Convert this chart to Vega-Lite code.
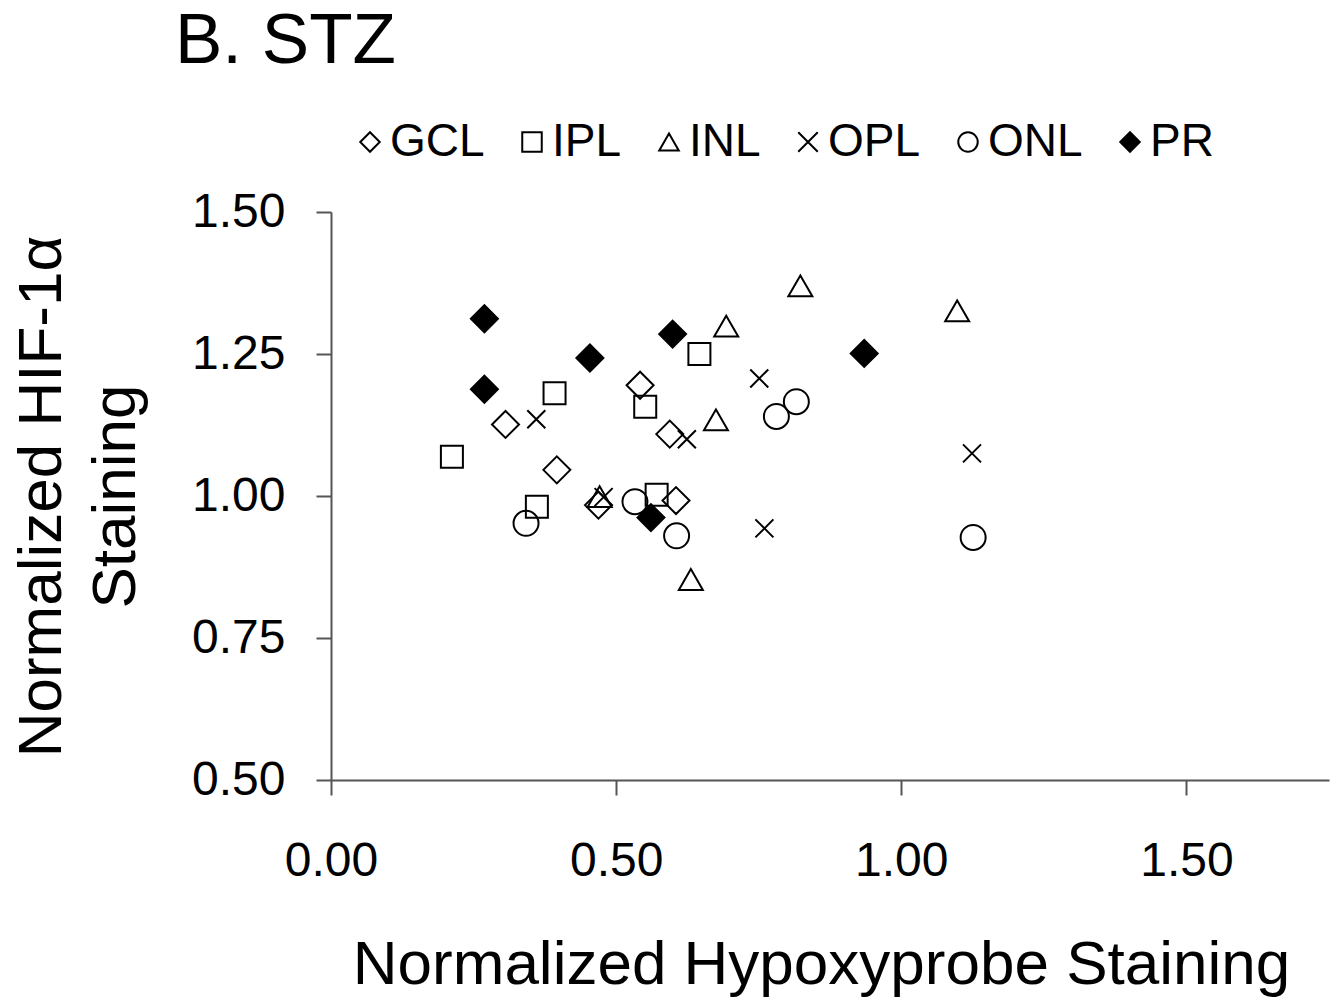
{
  "$schema": "https://vega.github.io/schema/vega-lite/v6.json",
  "width": 998,
  "height": 568,
  "autosize": {"type": "none"},
  "padding": {"left": 331, "top": 212, "right": 7, "bottom": 222},
  "background": "white",
  "title": {"text": "B. STZ", "anchor": "start", "frame": "group", "fontSize": 71, "font": "Liberation Sans", "fontWeight": "normal", "color": "black", "dx": -156, "dy": -37},
  "config": {"view": {"stroke": null}, "font": "Liberation Sans"},
  "data": {"values": [
    {"layer": "GCL", "hypoxyprobe": 0.542, "hif": 1.195},
    {"layer": "GCL", "hypoxyprobe": 0.306, "hif": 1.126},
    {"layer": "GCL", "hypoxyprobe": 0.594, "hif": 1.109},
    {"layer": "GCL", "hypoxyprobe": 0.396, "hif": 1.046},
    {"layer": "GCL", "hypoxyprobe": 0.469, "hif": 0.984},
    {"layer": "GCL", "hypoxyprobe": 0.605, "hif": 0.992},
    {"layer": "IPL", "hypoxyprobe": 0.646, "hif": 1.250},
    {"layer": "IPL", "hypoxyprobe": 0.392, "hif": 1.181},
    {"layer": "IPL", "hypoxyprobe": 0.551, "hif": 1.157},
    {"layer": "IPL", "hypoxyprobe": 0.212, "hif": 1.069},
    {"layer": "IPL", "hypoxyprobe": 0.571, "hif": 1.002},
    {"layer": "IPL", "hypoxyprobe": 0.361, "hif": 0.981},
    {"layer": "INL", "hypoxyprobe": 0.675, "hif": 1.134},
    {"layer": "INL", "hypoxyprobe": 0.471, "hif": 0.999},
    {"layer": "INL", "hypoxyprobe": 0.631, "hif": 0.853},
    {"layer": "INL", "hypoxyprobe": 0.823, "hif": 1.370},
    {"layer": "INL", "hypoxyprobe": 1.098, "hif": 1.326},
    {"layer": "INL", "hypoxyprobe": 0.693, "hif": 1.299},
    {"layer": "OPL", "hypoxyprobe": 0.360, "hif": 1.135},
    {"layer": "OPL", "hypoxyprobe": 0.624, "hif": 1.100},
    {"layer": "OPL", "hypoxyprobe": 0.478, "hif": 0.998},
    {"layer": "OPL", "hypoxyprobe": 0.751, "hif": 1.207},
    {"layer": "OPL", "hypoxyprobe": 1.124, "hif": 1.075},
    {"layer": "OPL", "hypoxyprobe": 0.760, "hif": 0.943},
    {"layer": "ONL", "hypoxyprobe": 0.533, "hif": 0.990},
    {"layer": "ONL", "hypoxyprobe": 0.342, "hif": 0.952},
    {"layer": "ONL", "hypoxyprobe": 0.606, "hif": 0.930},
    {"layer": "ONL", "hypoxyprobe": 0.816, "hif": 1.166},
    {"layer": "ONL", "hypoxyprobe": 0.781, "hif": 1.140},
    {"layer": "ONL", "hypoxyprobe": 1.126, "hif": 0.927},
    {"layer": "PR", "hypoxyprobe": 0.269, "hif": 1.312},
    {"layer": "PR", "hypoxyprobe": 0.599, "hif": 1.285},
    {"layer": "PR", "hypoxyprobe": 0.454, "hif": 1.243},
    {"layer": "PR", "hypoxyprobe": 0.269, "hif": 1.188},
    {"layer": "PR", "hypoxyprobe": 0.935, "hif": 1.251},
    {"layer": "PR", "hypoxyprobe": 0.561, "hif": 0.962}
  ]},
  "mark": {"type": "point", "filled": true, "opacity": 1, "strokeWidth": 2},
  "encoding": {
    "x": {
      "field": "hypoxyprobe", "type": "quantitative",
      "scale": {"domain": [0, 1.75], "nice": false, "zero": false},
      "axis": {
        "values": [0, 0.5, 1, 1.5], "format": ".2f", "grid": false,
        "tickSize": 15, "tickWidth": 2, "tickColor": "#555", "domainColor": "#555", "domainWidth": 2,
        "labelFontSize": 48, "labelColor": "black", "labelPadding": 42, "labelFlush": false, "labelFont": "Liberation Sans",
        "title": "Normalized Hypoxyprobe Staining", "titleFont": "Liberation Sans", "titleFontSize": 62, "titleFontWeight": "normal", "titleColor": "black",
        "titleX": 490, "titleY": 154, "titleBaseline": "top", "titleAlign": "center"
      }
    },
    "y": {
      "field": "hif", "type": "quantitative",
      "scale": {"domain": [0.5, 1.5], "nice": false, "zero": false},
      "axis": {
        "values": [0.5, 0.75, 1, 1.25, 1.5], "format": ".2f", "grid": false,
        "tickSize": 15, "tickWidth": 2, "tickColor": "#555", "domainColor": "#555", "domainWidth": 2,
        "labelFontSize": 48, "labelColor": "black", "labelPadding": 31, "labelFlush": false, "labelFont": "Liberation Sans",
        "title": ["Normalized HIF-1α", "Staining"], "titleFont": "Liberation Sans", "titleFontSize": 62, "titleFontWeight": "normal", "titleColor": "black",
        "titleLineHeight": 74, "titleAngle": -90, "titleAlign": "center", "titleBaseline": "top", "titleX": -320, "titleY": 284
      }
    },
    "shape": {
      "field": "layer", "type": "nominal",
      "scale": {"domain": ["GCL", "IPL", "INL", "OPL", "ONL", "PR"], "range": ["diamond", "square", "triangle-up", "M-1,-1L1,1M-1,1L1,-1", "circle", "diamond"]},
      "legend": {"title": null, "orient": "none", "direction": "horizontal", "legendX": 16, "legendY": -93, "labelFontSize": 46, "labelFont": "Liberation Sans", "labelColor": "black", "symbolSize": 380, "symbolStrokeWidth": 2, "labelOffset": -3, "columnPadding": 24}
    },
    "fill": {
      "field": "layer", "type": "nominal",
      "scale": {"domain": ["GCL", "IPL", "INL", "OPL", "ONL", "PR"], "range": ["transparent", "transparent", "transparent", "transparent", "transparent", "black"]},
      "legend": {"title": null, "orient": "none", "direction": "horizontal", "legendX": 16, "legendY": -93, "labelFontSize": 46, "labelFont": "Liberation Sans", "labelColor": "black", "symbolSize": 380, "symbolStrokeWidth": 2, "labelOffset": -3, "columnPadding": 24}
    },
    "stroke": {
      "field": "layer", "type": "nominal",
      "scale": {"domain": ["GCL", "IPL", "INL", "OPL", "ONL", "PR"], "range": ["black", "black", "black", "black", "black", "black"]},
      "legend": {"title": null, "orient": "none", "direction": "horizontal", "legendX": 16, "legendY": -93, "labelFontSize": 46, "labelFont": "Liberation Sans", "labelColor": "black", "symbolSize": 380, "symbolStrokeWidth": 2, "labelOffset": -3, "columnPadding": 24}
    },
    "size": {
      "field": "layer", "type": "nominal",
      "scale": {"type": "ordinal", "domain": ["PR", "GCL", "IPL", "INL", "OPL", "ONL"], "range": [729, 729, 484, 576, 324, 625]},
      "legend": null
    }
  }
}
